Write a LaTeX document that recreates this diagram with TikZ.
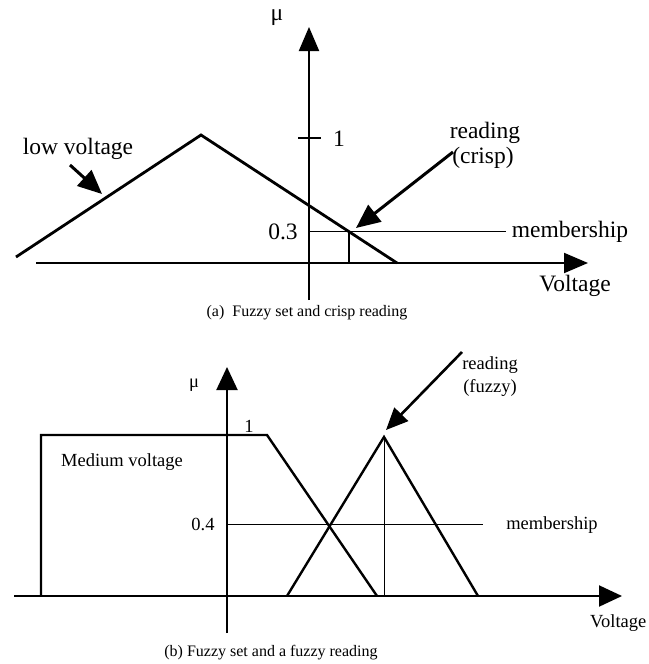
\documentclass[tikz,border=0pt]{standalone}
\usepackage{fontspec}
\setmainfont{Liberation Serif}
\usetikzlibrary{arrows.meta}
\begin{document}
\begin{tikzpicture}[x=1pt,y=-1pt,
  curveA/.style={line width=2.8pt, line join=miter},
  curveB/.style={line width=2.4pt, line join=miter},
  thinln/.style={line width=0.9pt},
  axisA/.style={line width=2pt,-{Triangle[length=24pt,width=20pt]}},
  axisB/.style={line width=2pt,-{Triangle[length=23pt,width=21pt]}},
  pointerA/.style={line width=3pt,-{Triangle[length=24pt,width=21pt]}},
  pointerB/.style={line width=2.6pt,-{Triangle[length=22pt,width=19pt]}},
  lbltop/.style={inner sep=0pt,font=\fontsize{23.5}{26}\selectfont},
  lblbot/.style={inner sep=0pt,font=\fontsize{18.5}{21}\selectfont},
  captxt/.style={inner sep=0pt,font=\fontsize{16}{19}\selectfont}]
\useasboundingbox (0,0) rectangle (648,664);

% ---------- (a) ----------
\coordinate (aYbot) at (309,300);
\coordinate (aYtop) at (309,27);
\coordinate (aXl) at (36,263);
\coordinate (aXr) at (588,263);
\draw[axisA] (aYbot) -- (aYtop);
\draw[axisA] (aXl) -- (aXr);

\coordinate (lvL) at (16,257);
\coordinate (lvP) at (201,135);
\coordinate (lvR) at (397,263);
\draw[curveA] (lvL) -- (lvP) -- (lvR);

\coordinate (tk1) at (298,138);
\coordinate (tk2) at (321,138);
\draw[line width=2pt] (tk1) -- (tk2);
\node[lbltop] (one) at (339,139) {1};

\coordinate (mA1) at (309,231);
\coordinate (mA2) at (506,231);
\draw[thinln] (mA1) -- (mA2);
\coordinate (rdA) at (349,231);
\coordinate (rdAb) at (349,263);
\draw[line width=1.8pt] (rdA) -- (rdAb);

\node[lbltop] (zerothree) at (283,232) {0.3};
\node[lbltop] (membA) at (570,232) {membership};
\node[lbltop] (lowv) at (78,149) {low voltage};
\node[lbltop] (readA) at (485,133) {reading};
\node[lbltop] (crisp) at (483,158) {(crisp)};
\node[lbltop] (voltA) at (575,286) {Voltage};
\node[lbltop] (muA) at (277,18) {μ};
\node[captxt] (capA) at (307,313) {(a)\ \ Fuzzy set and crisp reading};

\coordinate (pA1) at (453,152);
\coordinate (pA2) at (356,228);
\draw[pointerA] (pA1) -- (pA2);
\coordinate (pL1) at (70,165);
\coordinate (pL2) at (102,194);
\draw[pointerA] (pL1) -- (pL2);

% ---------- (b) ----------
\coordinate (bYbot) at (227,633);
\coordinate (bYtop) at (227,367);
\coordinate (bXl) at (14,596);
\coordinate (bXr) at (622,596);
\draw[axisB] (bYbot) -- (bYtop);
\draw[axisB] (bXl) -- (bXr);

\coordinate (mv1) at (41,596);
\coordinate (mv2) at (41,435);
\coordinate (mv3) at (267,435);
\coordinate (mv4) at (377,596);
\draw[curveB] (mv1) -- (mv2) -- (mv3) -- (mv4);

\coordinate (fz1) at (287,596);
\coordinate (fz2) at (384,437);
\coordinate (fz3) at (478,596);
\draw[curveB] (fz1) -- (fz2) -- (fz3);
\coordinate (fzb) at (384,596);
\draw[thinln] (fz2) -- (fzb);

\coordinate (mB1) at (227,524);
\coordinate (mB2) at (483,524);
\draw[thinln] (mB1) -- (mB2);

\node[lblbot] (oneB) at (249,426) {1};
\node[lblbot] (medv) at (122,462) {Medium voltage};
\node[lblbot] (zerofour) at (203,524) {0.4};
\node[lblbot] (membB) at (552,525) {membership};
\node[lblbot] (readB) at (490,365) {reading};
\node[lblbot] (fuzzy) at (490,388) {(fuzzy)};
\node[lblbot,anchor=west] (voltB) at (590,623) {Voltage};
\node[lblbot] (muB) at (194,385) {μ};
\node[captxt] (capB) at (271,653) {(b) Fuzzy set and a fuzzy reading};

\coordinate (pB1) at (462,352);
\coordinate (pB2) at (386,430);
\draw[pointerB] (pB1) -- (pB2);
\end{tikzpicture}
\end{document}
